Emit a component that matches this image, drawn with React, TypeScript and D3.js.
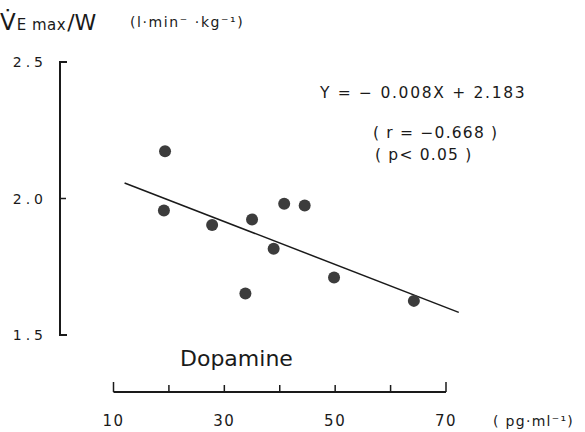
import React from "react";
import * as d3 from "d3";

const dopamine = [19.3, 19.1, 27.8, 35.0, 40.8, 44.5, 38.9, 33.8, 49.8, 64.2];
const vemax = [2.173, 1.956, 1.903, 1.923, 1.981, 1.974, 1.816, 1.652, 1.711, 1.625];
const lineX = [12, 72.3];
const lineY = [2.057, 1.583];
const xTicks = [10, 20, 30, 40, 50, 60, 70];
const xLabels = [10, 30, 50, 70];
const yTicks = [1.5, 2.0, 2.5];

const W = 585;
const H = 432;

export default function App() {
  const x = d3.scaleLinear().domain([10, 70]).range([113.5, 446]);
  const y = d3.scaleLinear().domain([1.5, 2.5]).range([335, 62]);
  const axisX = 60;
  const axisY = 392;
  const font = "'DejaVu Sans', Verdana, sans-serif";
  const ink = "#1a1a1a";
  const line = d3
    .line<number>()
    .x((d) => x(d))
    .y((_, i) => y(lineY[i]));

  return (
    <svg
      width={W}
      height={H}
      style={{ position: "absolute", left: 0, top: 0, background: "#fff" }}
      fontFamily={font}
      fill={ink}
    >
      <rect width={W} height={H} fill="#fff" />
      {/* title */}
      <text x={0} y={30} fontSize={23}>
        <tspan>V̇</tspan>
        <tspan fontSize={15} dx={1} letterSpacing={0.5}>E max</tspan>
        <tspan fontSize={22} dx={1}>/W</tspan>
      </text>
      <text x={130} y={27} fontSize={14} letterSpacing={1.6}>
        (l·min⁻ ·kg⁻¹)
      </text>

      {/* y axis */}
      <path
        d={`M${axisX + 7},${y(2.5)} H${axisX} V${y(1.5)} H${axisX + 7}`}
        fill="none"
        stroke={ink}
        strokeWidth={2}
      />
      <line x1={axisX} x2={axisX + 6} y1={y(2.0)} y2={y(2.0)} stroke={ink} strokeWidth={1.5} />
      {yTicks.map((t) => (
        <text
          key={t}
          x={47}
          y={y(t) + 5}
          fontSize={14}
          textAnchor="end"
          letterSpacing={4}
        >
          {t.toFixed(1)}
        </text>
      ))}

      {/* x axis */}
      <line x1={x(10)} x2={x(70)} y1={axisY} y2={axisY} stroke={ink} strokeWidth={2} />
      {xTicks.map((t) => (
        <line
          key={t}
          x1={x(t)}
          x2={x(t)}
          y1={axisY}
          y2={axisY - (t === 10 || t === 70 ? 10 : 7)}
          stroke={ink}
          strokeWidth={1.5}
        />
      ))}
      {xLabels.map((t) => (
        <text key={t} x={x(t)} y={426} fontSize={15} textAnchor="middle" letterSpacing={1.5}>
          {t}
        </text>
      ))}
      <text x={493} y={426} fontSize={14} letterSpacing={1.3}>
        ( pg·ml⁻¹)
      </text>

      {/* regression line */}
      <path d={line(lineX) || ""} fill="none" stroke={ink} strokeWidth={1.5} />

      {/* points */}
      {dopamine.map((d, i) => (
        <circle key={i} cx={x(d)} cy={y(vemax[i])} r={6} fill="#3c3c3c" />
      ))}

      {/* annotations */}
      <text x={320} y={98} fontSize={15.5} letterSpacing={1.7}>
        Y = − 0.008X  + 2.183
      </text>
      <text x={373} y={138} fontSize={15.5} letterSpacing={1.2}>
        ( r = −0.668 )
      </text>
      <text x={375} y={160} fontSize={15.5} letterSpacing={1.2}>
        ( p&lt; 0.05 )
      </text>
      <text x={180} y={366} fontSize={22}>
        Dopamine
      </text>
    </svg>
  );
}
